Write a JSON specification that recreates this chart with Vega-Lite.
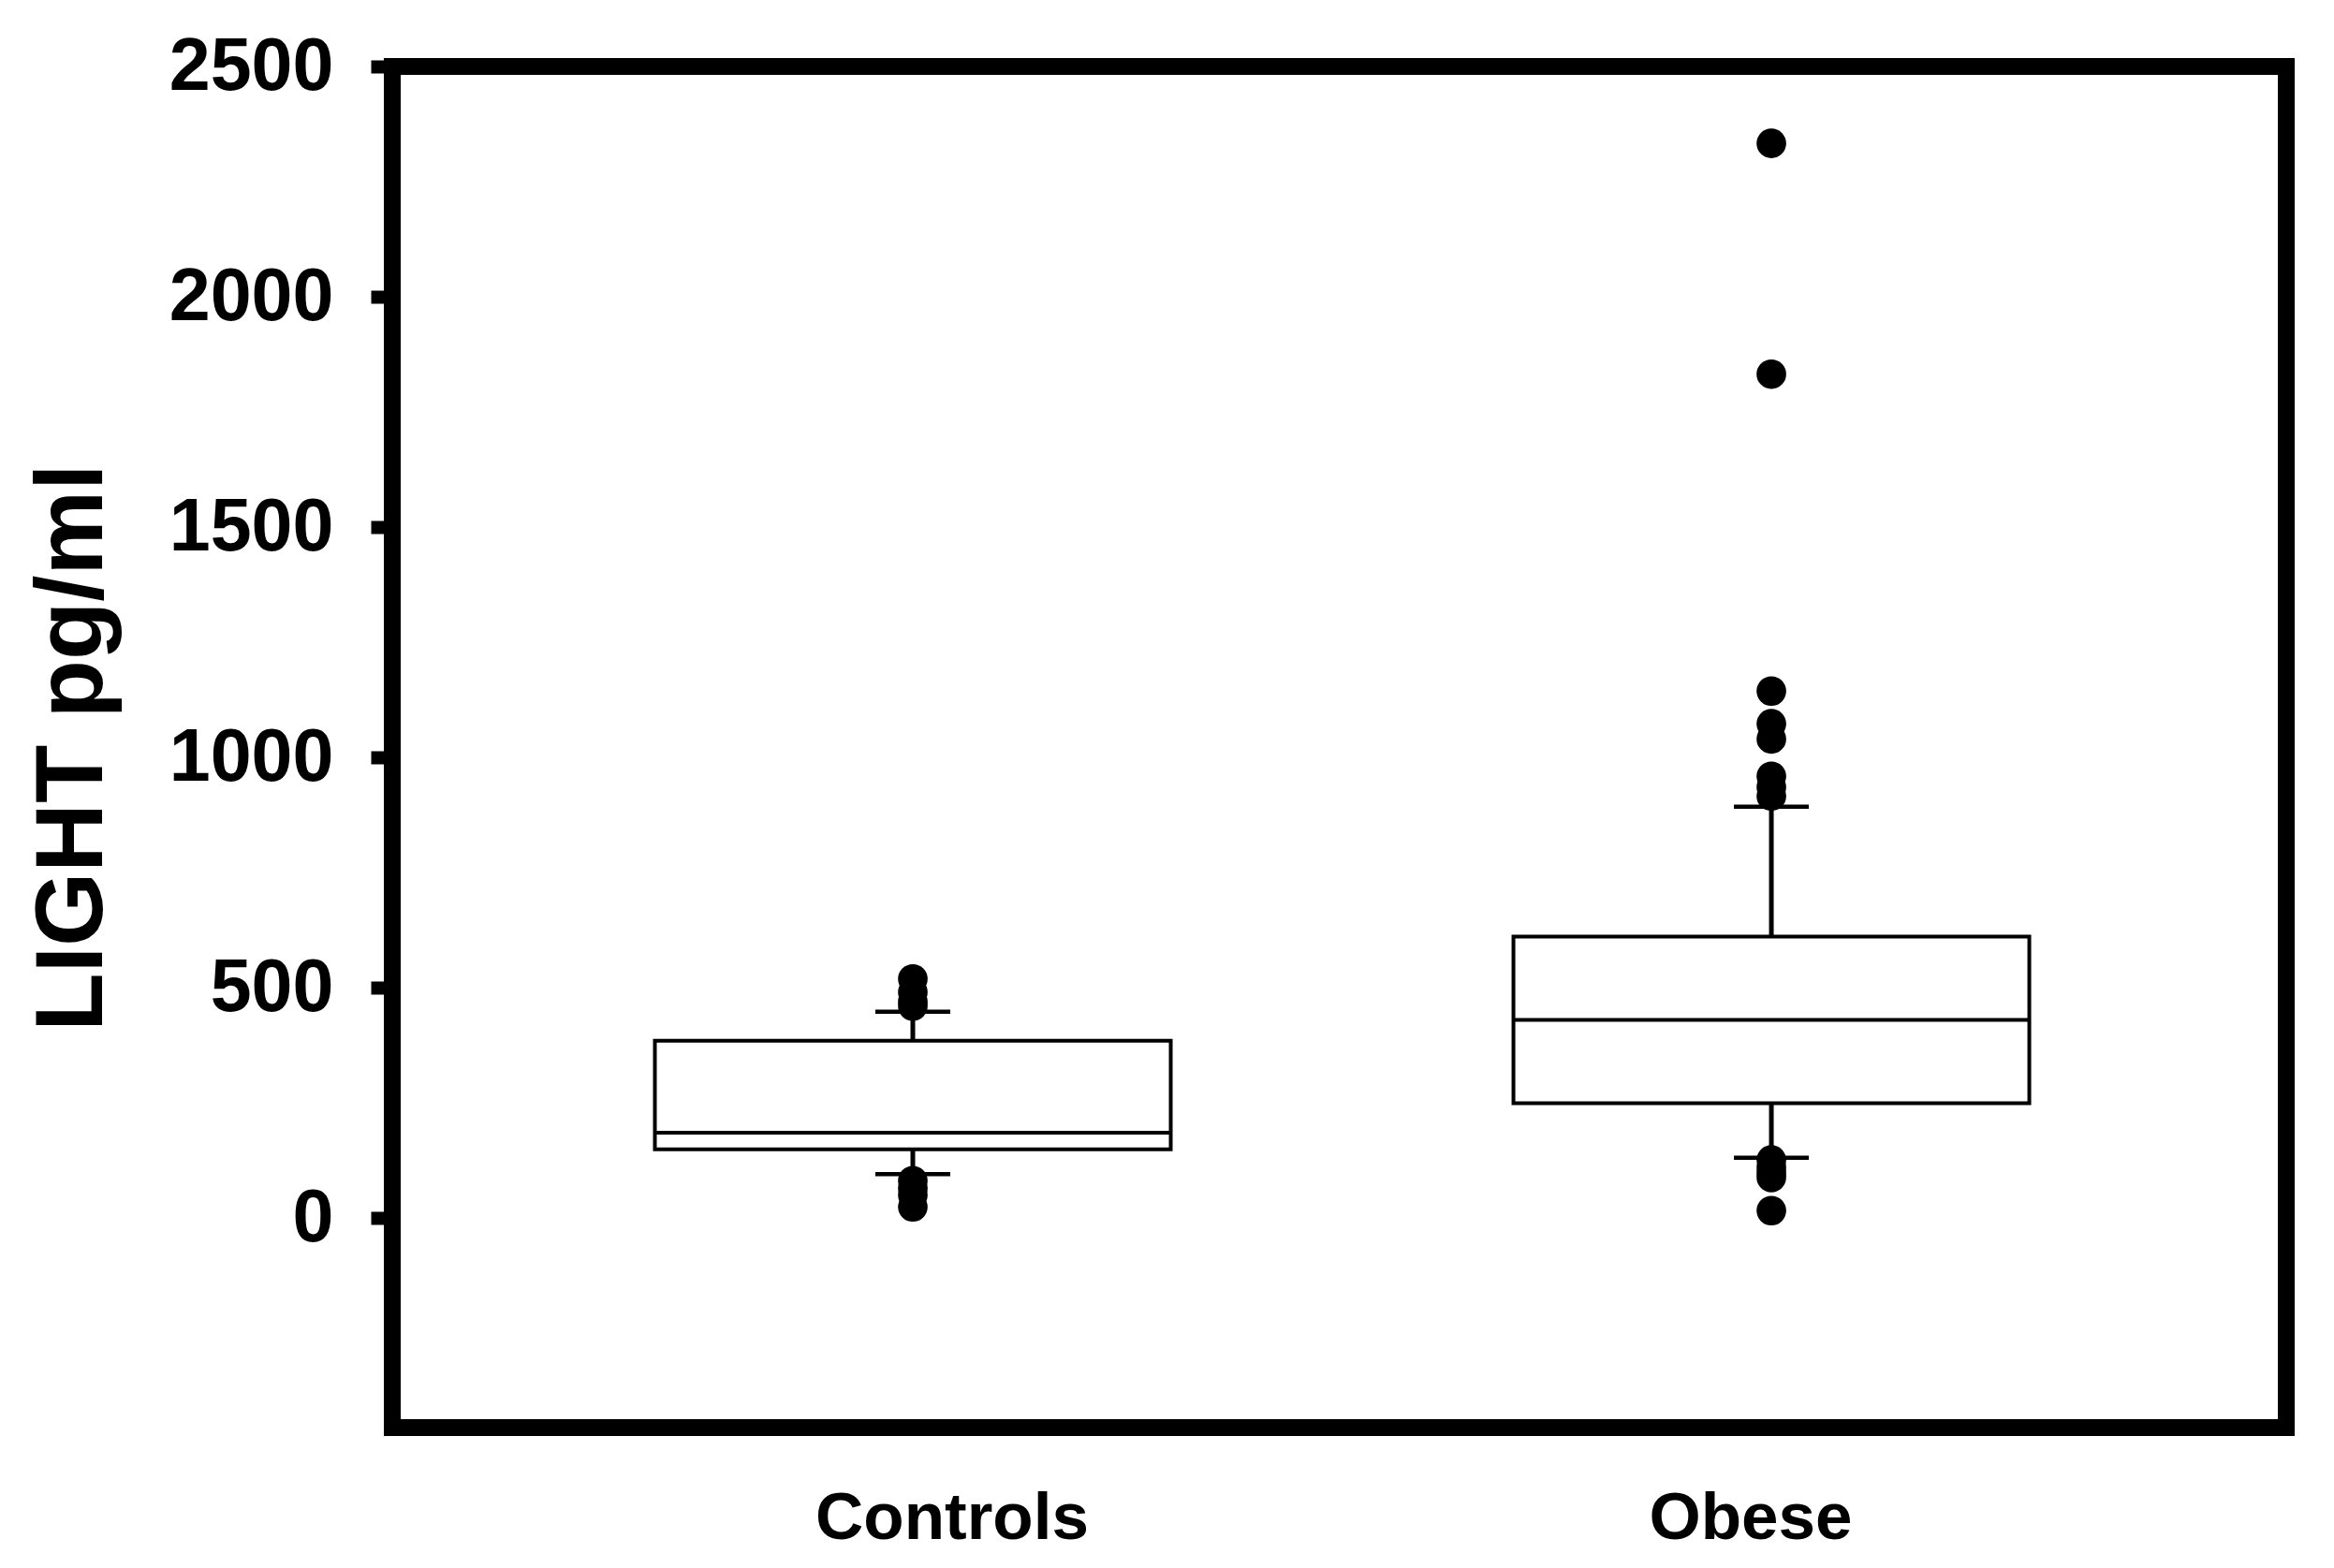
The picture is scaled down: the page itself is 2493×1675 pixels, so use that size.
{
  "$schema": "https://vega.github.io/schema/vega-lite/v6.json",
  "autosize": {"type": "none"},
  "padding": {"left": 419, "top": 71, "right": 51, "bottom": 150},
  "width": 2023,
  "height": 1454,
  "background": "white",
  "config": {
    "view": {"stroke": "black", "strokeWidth": 18},
    "font": "Liberation Sans"
  },
  "datasets": {
    "boxes": [
      {"group": "Controls", "lower": 95, "q1": 149, "median": 185, "q3": 385, "upper": 448},
      {"group": "Obese", "lower": 131, "q1": 249, "median": 430, "q3": 611, "upper": 893}
    ],
    "outliers": [
      {"group": "Controls", "value": 519},
      {"group": "Controls", "value": 490},
      {"group": "Controls", "value": 470},
      {"group": "Controls", "value": 460},
      {"group": "Controls", "value": 81},
      {"group": "Controls", "value": 65},
      {"group": "Controls", "value": 50},
      {"group": "Controls", "value": 24},
      {"group": "Obese", "value": 2333},
      {"group": "Obese", "value": 1832},
      {"group": "Obese", "value": 1144},
      {"group": "Obese", "value": 1073},
      {"group": "Obese", "value": 1040},
      {"group": "Obese", "value": 959},
      {"group": "Obese", "value": 935},
      {"group": "Obese", "value": 916},
      {"group": "Obese", "value": 126},
      {"group": "Obese", "value": 110},
      {"group": "Obese", "value": 98},
      {"group": "Obese", "value": 88},
      {"group": "Obese", "value": 16}
    ]
  },
  "layer": [
    {
      "data": {"name": "boxes"},
      "mark": {"type": "rule", "color": "black", "strokeWidth": 5},
      "encoding": {
        "x": {"field": "group", "type": "nominal"},
        "y": {"field": "q3", "type": "quantitative"},
        "y2": {"field": "upper"}
      }
    },
    {
      "data": {"name": "boxes"},
      "mark": {"type": "rule", "color": "black", "strokeWidth": 5},
      "encoding": {
        "x": {"field": "group", "type": "nominal"},
        "y": {"field": "lower", "type": "quantitative"},
        "y2": {"field": "q1"}
      }
    },
    {
      "data": {"name": "boxes"},
      "mark": {"type": "bar", "size": 551, "fill": "white", "stroke": "black", "strokeWidth": 4},
      "encoding": {
        "x": {"field": "group", "type": "nominal"},
        "y": {"field": "q1", "type": "quantitative"},
        "y2": {"field": "q3"}
      }
    },
    {
      "data": {"name": "boxes"},
      "mark": {"type": "tick", "size": 551, "thickness": 4, "color": "black", "opacity": 1},
      "encoding": {
        "x": {"field": "group", "type": "nominal"},
        "y": {"field": "median", "type": "quantitative"}
      }
    },
    {
      "data": {"name": "boxes"},
      "mark": {"type": "tick", "size": 80, "thickness": 4.5, "color": "black", "opacity": 1},
      "encoding": {
        "x": {"field": "group", "type": "nominal"},
        "y": {"field": "upper", "type": "quantitative"}
      }
    },
    {
      "data": {"name": "boxes"},
      "mark": {"type": "tick", "size": 80, "thickness": 4.5, "color": "black", "opacity": 1},
      "encoding": {
        "x": {"field": "group", "type": "nominal"},
        "y": {"field": "lower", "type": "quantitative"}
      }
    },
    {
      "data": {"name": "outliers"},
      "mark": {"type": "circle", "size": 1000, "color": "black", "opacity": 1},
      "encoding": {
        "x": {"field": "group", "type": "nominal"},
        "y": {"field": "value", "type": "quantitative"}
      }
    }
  ],
  "resolve": {"scale": {"x": "shared", "y": "shared"}},
  "encoding": {
    "x": {
      "field": "group",
      "type": "nominal",
      "sort": ["Controls", "Obese"],
      "scale": {"domain": ["Controls", "Obese"], "paddingInner": 0, "paddingOuter": 0.103, "align": 0.516},
      "axis": {
        "title": null,
        "domain": false,
        "ticks": false,
        "tickSize": 0,
        "grid": false,
        "labelAngle": 0,
        "labelLimit": 2000,
        "labelFont": "Liberation Sans",
        "labelFontSize": 71,
        "labelFontWeight": "bold",
        "labelColor": "black",
        "labelPadding": 62,
        "labelOffset": {"condition": {"test": "datum.value === 'Controls'", "value": 42}, "value": -22}
      }
    },
    "y": {
      "type": "quantitative",
      "scale": {"domain": [-455, 2500], "nice": false, "zero": false},
      "axis": {
        "title": "LIGHT pg/ml",
        "titleFont": "Liberation Sans",
        "titleFontSize": 102,
        "titleFontWeight": "bold",
        "titleColor": "black",
        "titlePadding": 90,
        "titleLimit": 3000,
        "values": [0, 500, 1000, 1500, 2000, 2500],
        "format": "d",
        "labelLimit": 2000,
        "domain": false,
        "grid": false,
        "tickColor": "black",
        "tickSize": 23,
        "tickWidth": 14,
        "labelFont": "Liberation Sans",
        "labelFontSize": 79,
        "labelFontWeight": "bold",
        "labelColor": "black",
        "labelPadding": 40
      }
    }
  }
}
